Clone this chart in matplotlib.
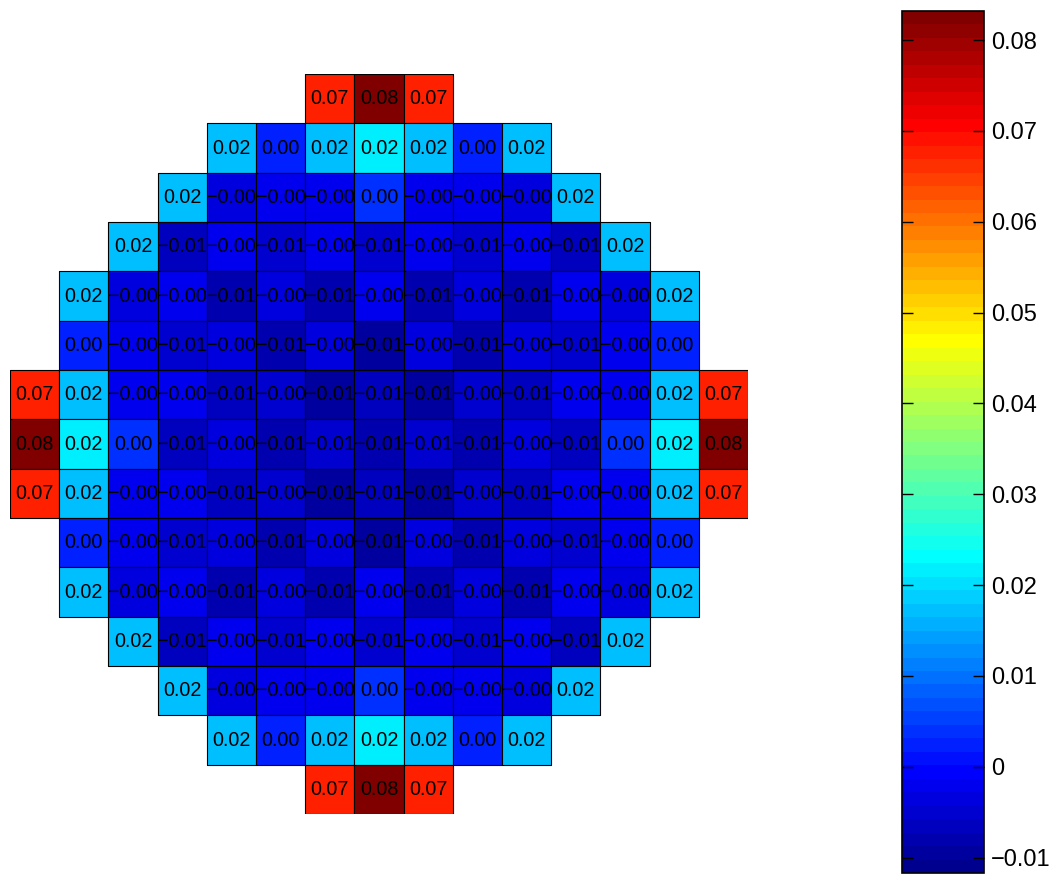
import numpy as np
import matplotlib
matplotlib.use("Agg")
import matplotlib.pyplot as plt
from matplotlib.colors import ListedColormap, Normalize
from matplotlib.collections import PatchCollection
from matplotlib.patches import Rectangle
from matplotlib.cm import ScalarMappable
from matplotlib.ticker import FuncFormatter

plt.rcParams['font.family'] = ['Liberation Sans', 'DejaVu Sans']

nan = np.nan

# Per-cell values of the 15 x 15 core map (NaN = no assembly)
row_00 = [nan, nan, nan, nan, nan, nan, 0.0675, 0.0832, 0.0675, nan, nan, nan, nan, nan, nan]
row_01 = [nan, nan, nan, nan, 0.0165, 0.0025, 0.0165, 0.022, 0.0165, 0.0025, 0.0165, nan, nan, nan, nan]
row_02 = [nan, nan, nan, 0.0165, -0.0035, -0.0025, -0.002, 0.004, -0.002, -0.0025, -0.0035, 0.0165, nan, nan, nan]
row_03 = [nan, nan, 0.0165, -0.0065, -0.002, -0.0055, -0.0015, -0.0055, -0.0015, -0.0055, -0.002, -0.0065, 0.0165, nan, nan]
row_04 = [nan, 0.0165, -0.004, -0.002, -0.008, -0.003, -0.0075, -0.0025, -0.0075, -0.003, -0.008, -0.002, -0.004, 0.0165, nan]
row_05 = [nan, 0.002, -0.002, -0.0055, -0.004, -0.0075, -0.0035, -0.009, -0.0035, -0.0075, -0.004, -0.0055, -0.002, 0.002, nan]
row_06 = [0.0675, 0.0165, -0.002, -0.0015, -0.007, -0.0045, -0.0095, -0.006, -0.0095, -0.0045, -0.007, -0.0015, -0.002, 0.0165, 0.0675]
row_07 = [0.0832, 0.022, 0.004, -0.006, -0.003, -0.0075, -0.0055, -0.008, -0.0055, -0.0075, -0.003, -0.006, 0.004, 0.022, 0.0832]
row_08 = [0.0675, 0.0165, -0.002, -0.0015, -0.007, -0.0045, -0.0095, -0.006, -0.0095, -0.0045, -0.007, -0.0015, -0.002, 0.0165, 0.0675]
row_09 = [nan, 0.002, -0.002, -0.0055, -0.004, -0.0075, -0.0035, -0.009, -0.0035, -0.0075, -0.004, -0.0055, -0.002, 0.002, nan]
row_10 = [nan, 0.0165, -0.004, -0.002, -0.008, -0.003, -0.0075, -0.0025, -0.0075, -0.003, -0.008, -0.002, -0.004, 0.0165, nan]
row_11 = [nan, nan, 0.0165, -0.0065, -0.002, -0.0055, -0.0015, -0.0055, -0.0015, -0.0055, -0.002, -0.0065, 0.0165, nan, nan]
row_12 = [nan, nan, nan, 0.0165, -0.0035, -0.0025, -0.002, 0.004, -0.002, -0.0025, -0.0035, 0.0165, nan, nan, nan]
row_13 = [nan, nan, nan, nan, 0.0165, 0.0025, 0.0165, 0.022, 0.0165, 0.0025, 0.0165, nan, nan, nan, nan]
row_14 = [nan, nan, nan, nan, nan, nan, 0.0675, 0.0832, 0.0675, nan, nan, nan, nan, nan, nan]

color_min = -0.0117
cbar_ticks = [-0.01, 0.0, 0.01, 0.02, 0.03, 0.04, 0.05, 0.06, 0.07, 0.08]

data = np.array([row_00, row_01, row_02, row_03, row_04, row_05, row_06, row_07,
                 row_08, row_09, row_10, row_11, row_12, row_13, row_14])


def matlab_jet(m=64):
    n = int(np.ceil(m / 4))
    u = np.concatenate([np.arange(1, n + 1) / n, np.ones(n - 1), np.arange(n, 0, -1) / n])
    g = int(np.ceil(n / 2)) - (1 if m % 4 == 1 else 0) + np.arange(1, len(u) + 1)
    r = g + n
    b = g - n
    J = np.zeros((m, 3))
    for col, idx in ((0, r), (1, g), (2, b)):
        ok = (idx >= 1) & (idx <= m)
        J[idx[ok] - 1, col] = u[ok]
    return ListedColormap(J)


cmap = matlab_jet(64)
norm = Normalize(vmin=color_min, vmax=np.nanmax(data))

W, H = 1056, 874
fig = plt.figure(figsize=(W / 100, H / 100), dpi=100)

ax = fig.add_axes([10 / W, (H - 814) / H, 738 / W, 740 / H])
nrows, ncols = data.shape

cells, vals = [], []
for i in range(nrows):
    for j in range(ncols):
        v = data[i, j]
        if np.isnan(v):
            continue
        cells.append(Rectangle((j, i), 1, 1))
        vals.append(v)
coll = PatchCollection(cells, cmap=cmap, norm=norm, edgecolor='k', linewidth=0.8)
coll.set_array(np.array(vals))
ax.add_collection(coll)

for i in range(nrows):
    for j in range(ncols):
        v = data[i, j]
        if np.isnan(v):
            continue
        ax.text(j + 0.5, i + 0.5, f"{v:.2f}".replace('-', '\u2212'),
                ha='center', va='center', fontsize=14.2, color='k')

ax.set_xlim(0, ncols)
ax.set_ylim(nrows, 0)
ax.axis('off')

cax = fig.add_axes([902 / W, (H - 873) / H, 82 / W, 862 / H])
cb = fig.colorbar(ScalarMappable(norm=norm, cmap=cmap), cax=cax, ticks=cbar_ticks)
cb.outline.set_linewidth(1.2)
cb.ax.yaxis.set_major_formatter(FuncFormatter(
    lambda x, p: ('%g' % round(x, 4)).replace('-', '\u2212')))
cb.ax.tick_params(which='both', direction='in', length=8, width=1,
                  left=True, right=True, labelsize=17, pad=5)
cb.ax.minorticks_off()

fig.savefig('out.png', dpi=100)
